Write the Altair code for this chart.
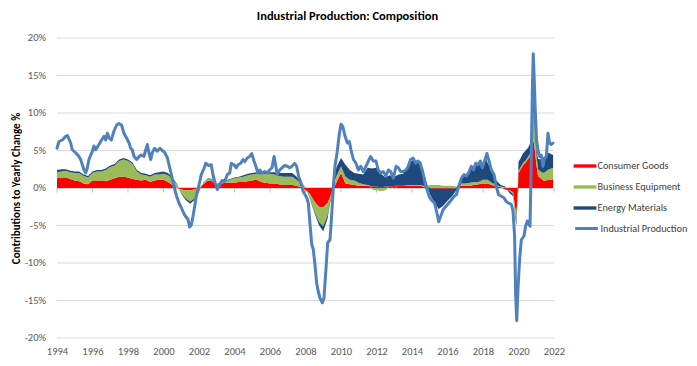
import altair as alt
import pandas as pd

# ---------------- data ----------------
comp_t = [
    1994.00, 1994.25, 1994.50, 1994.75,
    1995.00, 1995.25, 1995.50, 1995.75,
    1996.00, 1996.25, 1996.50, 1996.75,
    1997.00, 1997.25, 1997.50, 1997.75,
    1998.00, 1998.25, 1998.50, 1998.75,
    1999.00, 1999.25, 1999.50, 1999.75,
    2000.00, 2000.25, 2000.50, 2000.75,
    2001.00, 2001.25, 2001.50, 2001.75,
    2002.00, 2002.25, 2002.50, 2002.75,
    2003.00, 2003.25, 2003.50, 2003.75,
    2004.00, 2004.25, 2004.50, 2004.75,
    2005.00, 2005.25, 2005.50, 2005.75,
    2006.00, 2006.25, 2006.50, 2006.75,
    2007.00, 2007.25, 2007.50, 2007.75,
    2008.00, 2008.25, 2008.50, 2008.75,
    2009.00, 2009.25, 2009.50, 2009.75,
    2010.00, 2010.25, 2010.50, 2010.75,
    2011.00, 2011.25, 2011.50, 2011.75,
    2012.00, 2012.25, 2012.50, 2012.75,
    2013.00, 2013.25, 2013.50, 2013.75,
    2014.00, 2014.25, 2014.50, 2014.75,
    2015.00, 2015.25, 2015.50, 2015.75,
    2016.00, 2016.25, 2016.50, 2016.75,
    2017.00, 2017.25, 2017.50, 2017.75,
    2018.00, 2018.15, 2018.25, 2018.50, 2018.75,
    2019.00, 2019.25, 2019.50, 2019.70, 2019.80, 2019.88, 2019.95,
    2020.00, 2020.10, 2020.25, 2020.40, 2020.55, 2020.65, 2020.72, 2020.78, 2020.83, 2020.90,
    2021.00, 2021.10, 2021.25, 2021.40, 2021.55, 2021.70, 2021.85, 2021.95,
]
consumer_goods = [
    1.3, 1.4, 1.4, 1.2,
    1.0, 0.9, 0.6, 0.5,
    1.0, 1.0, 1.0, 0.9,
    1.1, 1.3, 1.5, 1.5,
    1.4, 1.2, 1.1, 1.0,
    1.1, 0.8, 1.0, 1.1,
    1.1, 0.8, 0.4, 0.0,
    -0.2, -0.3, -0.3, -0.2,
    0.0, 0.5, 1.0, 0.9,
    0.3, 0.6, 0.7, 0.7,
    0.7, 0.8, 0.8, 0.9,
    1.0, 1.1, 0.8, 0.7,
    0.6, 0.6, 0.5, 0.4,
    0.4, 0.4, 0.3, 0.1,
    -0.3, -0.8, -1.8, -2.5,
    -2.6, -2.0, -0.5, 0.8,
    2.0, 0.6, 0.5, 0.4,
    0.3, 0.3, 0.3, 0.2,
    0.2, 0.1, 0.2, 0.2,
    0.3, 0.3, 0.3, 0.3,
    0.3, 0.3, 0.3, 0.1,
    0.0, -0.1, -0.1, -0.1,
    -0.1, -0.1, 0.0, 0.3,
    0.3, 0.3, 0.4, 0.5,
    0.6, 0.6, 0.6, 0.4, 0.2,
    0.1, -0.2, -0.3, -0.6, -2.5, -3.5, -1.0,
    2.0, 2.4, 3.0, 3.4, 3.9, 4.2, 5.0, 6.0, 6.5, 5.5,
    3.3, 1.6, 1.3, 1.0, 1.0, 1.1, 1.1, 1.2,
]
business_equipment = [
    0.8, 0.8, 0.9, 0.9,
    1.0, 1.1, 1.0, 0.9,
    1.0, 1.2, 1.2, 1.5,
    1.7, 1.7, 2.1, 2.3,
    2.2, 2.0, 1.1, 0.8,
    0.6, 0.7, 0.8, 0.7,
    0.8, 0.9, 0.8, 0.5,
    -0.5, -1.1, -1.5, -1.2,
    -0.4, 0.1, 0.2, 0.2,
    0.1, 0.2, 0.2, 0.4,
    0.6, 0.6, 0.7, 0.8,
    0.8, 0.8, 1.0, 1.2,
    1.3, 1.2, 1.1, 1.1,
    1.1, 1.1, 0.8, 0.5,
    0.1, -0.6, -1.3, -2.0,
    -2.5, -1.6, -0.5, 0.8,
    0.9, 0.9, 0.6, 0.6,
    0.4, 0.2, 0.1, -0.2,
    -0.3, -0.4, -0.3, 0.0,
    -0.1, 0.0, 0.0, 0.1,
    0.1, 0.1, 0.1, 0.1,
    0.4, 0.4, 0.4, 0.3,
    0.3, 0.3, 0.2, 0.3,
    0.3, 0.4, 0.4, 0.3,
    0.5, 0.5, 0.5, 0.3, 0.2,
    0.1, 0.1, -0.1, -0.2, -0.8, -1.0, -0.3,
    0.3, 0.3, 0.3, 0.3, 0.3, 0.4, 1.5, 3.0, 4.0, 3.0,
    1.4, 0.9, 0.9, 1.0, 1.2, 1.4, 1.5, 1.5,
]
energy_materials = [
    0.3, 0.3, 0.2, 0.2,
    0.2, 0.2, 0.2, 0.2,
    0.2, 0.2, 0.2, 0.2,
    0.2, 0.2, 0.2, 0.2,
    0.2, 0.2, 0.2, 0.2,
    0.2, 0.2, 0.2, 0.3,
    0.3, 0.3, 0.2, 0.1,
    -0.1, -0.2, -0.3, -0.2,
    -0.1, 0.1, 0.1, 0.1,
    0.1, 0.1, 0.1, 0.1,
    0.1, 0.1, 0.2, 0.2,
    0.2, 0.2, 0.2, 0.1,
    0.2, 0.3, 0.4, 0.5,
    0.5, 0.5, 0.4, 0.2,
    0.0, -0.1, -0.2, -0.4,
    -0.7, -0.4, 0.2, 1.2,
    1.1, 1.6, 1.3, 1.0,
    1.2, 1.3, 2.3, 2.4,
    2.5, 1.8, 1.2, 1.5,
    1.2, 1.5, 1.6, 2.4,
    3.3, 3.0, 2.8, 1.2,
    -0.8, -1.8, -2.7, -2.3,
    -1.6, -1.0, -0.3, 0.6,
    1.1, 1.7, 2.2, 2.4,
    2.0, 2.9, 2.3, 1.6, 0.6,
    0.2, 0.1, -0.3, -0.3, -0.4, -0.5, -0.2,
    1.2, 1.2, 1.3, 1.3, 1.2, 1.3, 1.5, 2.5, 3.0, 2.5,
    0.6, 1.4, 1.6, 1.8, 2.0, 2.2, 1.9, 1.7,
]

ip_t = [
    1994.00, 1994.11, 1994.30, 1994.49, 1994.58, 1994.68, 1994.77, 1994.86,
    1995.05, 1995.24, 1995.33, 1995.43, 1995.52, 1995.62, 1995.71, 1995.80, 1995.99,
    1996.08, 1996.18, 1996.31, 1996.46, 1996.65, 1996.74, 1996.84, 1996.93,
    1997.06, 1997.21, 1997.36, 1997.49, 1997.64, 1997.77, 1997.91,
    1998.06, 1998.15, 1998.24, 1998.34, 1998.49, 1998.62, 1998.75, 1998.90,
    1999.00, 1999.09, 1999.18, 1999.28, 1999.37, 1999.50, 1999.65, 1999.80, 1999.93,
    2000.08, 2000.22, 2000.31, 2000.44, 2000.59, 2000.74, 2000.87,
    2001.00, 2001.19, 2001.38, 2001.47, 2001.57, 2001.66, 2001.76, 2001.85, 2001.98,
    2002.13, 2002.28, 2002.38, 2002.54, 2002.69, 2002.80, 2002.92,
    2003.03, 2003.16, 2003.30, 2003.45, 2003.60, 2003.73, 2003.82, 2003.97,
    2004.10, 2004.20, 2004.35, 2004.48, 2004.57, 2004.72, 2004.85, 2004.97,
    2005.10, 2005.23, 2005.32, 2005.42, 2005.55, 2005.70, 2005.85, 2005.98,
    2006.11, 2006.23, 2006.30, 2006.41, 2006.55, 2006.68, 2006.83, 2006.98,
    2007.11, 2007.24, 2007.39, 2007.50, 2007.62, 2007.73, 2007.86,
    2008.07, 2008.16, 2008.25, 2008.35, 2008.44, 2008.54, 2008.63, 2008.72, 2008.82, 2008.95,
    2009.04, 2009.15, 2009.25, 2009.38, 2009.47, 2009.57, 2009.66, 2009.79, 2009.91,
    2010.00, 2010.10, 2010.23, 2010.36, 2010.47, 2010.56, 2010.70, 2010.84, 2010.98,
    2011.11, 2011.26, 2011.41, 2011.54, 2011.67, 2011.82, 2011.97,
    2012.10, 2012.23, 2012.38, 2012.53, 2012.67, 2012.80, 2012.95,
    2013.10, 2013.23, 2013.36, 2013.51, 2013.66, 2013.79, 2013.92,
    2014.07, 2014.20, 2014.32, 2014.45, 2014.60, 2014.73, 2014.86, 2014.98,
    2015.09, 2015.27, 2015.43, 2015.50, 2015.61, 2015.75, 2015.93,
    2016.07, 2016.21, 2016.37, 2016.50, 2016.63, 2016.78, 2016.93,
    2017.06, 2017.19, 2017.34, 2017.47, 2017.59, 2017.72, 2017.85, 2017.96,
    2018.09, 2018.22, 2018.34, 2018.47, 2018.62, 2018.75, 2018.88,
    2019.03, 2019.18, 2019.31, 2019.44, 2019.60, 2019.69, 2019.78, 2019.84, 2019.90, 2019.97,
    2020.06, 2020.16, 2020.31, 2020.40, 2020.50, 2020.59, 2020.65, 2020.72, 2020.78, 2020.83, 2020.88,
    2020.95, 2021.02, 2021.10, 2021.19, 2021.28, 2021.38, 2021.47, 2021.57, 2021.66, 2021.75, 2021.85, 2021.94,
]
industrial_production = [
    5.3, 6.2, 6.4, 6.9, 7.0, 6.5, 6.0, 5.1,
    4.7, 4.2, 3.8, 3.1, 2.4, 2.0, 2.7, 3.8, 4.9,
    5.6, 5.1, 5.6, 6.2, 6.9, 6.4, 7.3, 6.7,
    6.4, 7.6, 8.4, 8.6, 8.4, 7.3, 6.7,
    6.0, 5.3, 5.1, 4.2, 3.8, 4.2, 4.4, 4.2,
    5.1, 5.8, 4.7, 3.8, 4.7, 5.3, 4.9, 5.3, 5.0,
    4.7, 4.0, 3.1, 1.8, 0.2, -1.1, -2.0,
    -2.6, -3.6, -4.2, -5.2, -4.9, -3.8, -2.4, -1.1, 0.2,
    1.8, 2.6, 3.3, 3.0, 3.1, 1.6, 0.6,
    -0.2, 0.4, 1.0, 0.9, 1.8, 2.0, 3.3, 3.1,
    2.7, 3.1, 3.3, 3.8, 3.5, 4.0, 4.2, 4.6,
    3.6, 2.7, 2.0, 2.4, 2.0, 2.2, 2.0, 2.4,
    2.7, 4.2, 3.3, 1.8, 2.4, 2.7, 3.0, 2.9,
    2.7, 2.9, 3.3, 2.9, 1.5, 0.8, -0.4,
    -1.3, -2.0, -4.7, -7.5, -8.2, -10.4, -12.7, -13.8, -14.7, -15.3,
    -14.7, -10.9, -7.3, -6.9, -3.8, 0.2, 2.9, 4.9, 7.3,
    8.5, 8.2, 6.9, 6.0, 6.2, 5.1, 3.8, 3.3, 2.4,
    2.9, 2.2, 2.9, 3.6, 4.2, 3.6, 3.6,
    2.4, 2.0, 2.2, 1.6, 2.4, 2.2, 1.3,
    2.9, 2.7, 2.2, 2.2, 2.4, 2.9, 3.8,
    4.0, 3.3, 3.6, 3.4, 2.2, 0.7, -0.3, -1.2,
    -1.6, -2.0, -3.6, -4.5, -3.8, -2.9, -2.4,
    -2.0, -1.6, -1.1, -0.9, 0.2, 1.3, 1.8,
    1.6, 2.0, 2.9, 2.4, 3.3, 3.1, 3.6, 2.7,
    3.6, 4.6, 3.6, 2.4, 1.8, 0.2, -0.9,
    -1.1, -1.3, -1.8, -2.0, -2.2, -3.1, -6.4, -14.4, -17.7, -13.6,
    -9.6, -6.9, -6.4, -5.1, -4.4, -4.9, -5.1, 3.8, 13.1, 17.9, 15.0,
    10.0, 6.4, 5.0, 4.2, 4.4, 2.9, 4.0, 4.2, 7.3, 6.0, 5.8, 6.0,
]

year_ticks = list(range(1994, 2023, 2))
y_ticks = [-20, -15, -10, -5, 0, 5, 10, 15, 20]
component_names = ["Consumer Goods", "Business Equipment", "Energy Materials"]
component_colors = ["#FF0000", "#9BBB59", "#1F497D"]
line_names = ["Industrial Production"]
line_colors = ["#4F81BD"]

assert len(comp_t) == len(consumer_goods) == len(business_equipment) == len(energy_materials)
assert len(ip_t) == len(industrial_production)

rows = []
for i, t in enumerate(comp_t):
    for k, vals in enumerate([consumer_goods, business_equipment, energy_materials]):
        rows.append({"t": t, "series": component_names[k], "value": vals[i], "ord": k})
comp_df = pd.DataFrame(rows)
ip_df = pd.DataFrame({"t": ip_t, "value": industrial_production, "series": line_names[0]})
tick_df = pd.DataFrame({"t": year_ticks, "value": [0] * len(year_ticks),
                        "value2": [-0.6] * len(year_ticks)})
grid_df = pd.DataFrame({"value": y_ticks, "label": [f"{v}%" for v in y_ticks]})
zero_df = pd.DataFrame({"value": [0]})

# ---------------- styling ----------------
FONT = "Carlito, Lato, sans-serif"
RECT = "M-1.9,-0.28L1.9,-0.28L1.9,0.28L-1.9,0.28Z"
HLINE = "M-1.9,0L1.9,0"

fill_legend = alt.Legend(
    title=None, orient="none", legendX=522, legendY=122, padding=0,
    symbolType=RECT, symbolSize=144, symbolStrokeWidth=0, symbolOpacity=1,
    labelOffset=6.5, rowPadding=9, labelLimit=200,
    labelFont=FONT, labelFontSize=10.2, labelColor="#404040",
)
stroke_legend = alt.Legend(
    title=None, orient="none", legendX=522, legendY=183, padding=0,
    symbolType=HLINE, symbolSize=144, symbolStrokeWidth=3, symbolOpacity=1,
    labelOffset=6.5, labelLimit=200,
    labelFont=FONT, labelFontSize=10.2, labelColor="#404040",
)

x_scale = alt.Scale(domain=[1994, 2022], nice=False, zero=False)
x_axis = alt.Axis(values=year_ticks, format="d", grid=False, ticks=False, tickSize=0,
                  domain=False, labelPadding=8, title=None, labelFont=FONT,
                  labelFontSize=10.5, labelColor="#595959", labelFlush=False,
                  labelOverlap=False)
y_scale = alt.Scale(domain=[-20, 20], nice=False, zero=False)
y_axis = alt.Axis(labels=False, grid=False, domain=False, ticks=False, tickSize=0,
                  title="Contributions to Yearly Change %", titleFont=FONT, titleFontSize=11,
                  titleFontWeight="bold", titleColor="#000000", titlePadding=36)

X = alt.X("t:Q", scale=x_scale, axis=x_axis)

grid = alt.Chart(grid_df).mark_rule(color="#D9D9D9", strokeWidth=1).encode(
    y=alt.Y("value:Q", scale=y_scale, axis=y_axis)
)
y_labels = alt.Chart(grid_df).mark_text(
    align="right", baseline="middle", font=FONT, fontSize=10.5, color="#595959"
).encode(
    y=alt.Y("value:Q", scale=y_scale, axis=y_axis),
    x=alt.value(-11),
    text="label:N",
)
zero_line = alt.Chart(zero_df).mark_rule(color="#BFBFBF", strokeWidth=1).encode(
    y=alt.Y("value:Q", scale=y_scale, axis=y_axis)
)
ticks = alt.Chart(tick_df).mark_rule(color="#BFBFBF", strokeWidth=1).encode(
    x=X, y=alt.Y("value:Q", scale=y_scale, axis=y_axis), y2="value2:Q"
)
areas = alt.Chart(comp_df).mark_area(opacity=1, interpolate="linear").encode(
    x=X,
    y=alt.Y("value:Q", stack="zero", scale=y_scale, axis=y_axis),
    fill=alt.Fill("series:N", scale=alt.Scale(domain=component_names, range=component_colors),
                  legend=fill_legend),
    order=alt.Order("ord:Q"),
)
line = alt.Chart(ip_df).mark_line(strokeWidth=3, strokeJoin="round", strokeCap="round").encode(
    x=X,
    y=alt.Y("value:Q", stack=None, scale=y_scale, axis=y_axis),
    stroke=alt.Stroke("series:N", scale=alt.Scale(domain=line_names, range=line_colors),
                      legend=stroke_legend),
)

chart = alt.layer(grid, y_labels, zero_line, ticks, areas, line).properties(
    width=497, height=300,
    autosize=alt.AutoSizeParams(type="none"),
    padding={"left": 49, "top": 30, "right": 135, "bottom": 20},
    title=alt.Title("Industrial Production: Composition", font=FONT, fontSize=12.5,
                    fontWeight="bold", color="#000000", anchor="middle", dx=42, offset=11),
    background="white",
).configure_view(stroke=None)

chart.save("out.html", embed_options={"renderer": "svg", "actions": False})
